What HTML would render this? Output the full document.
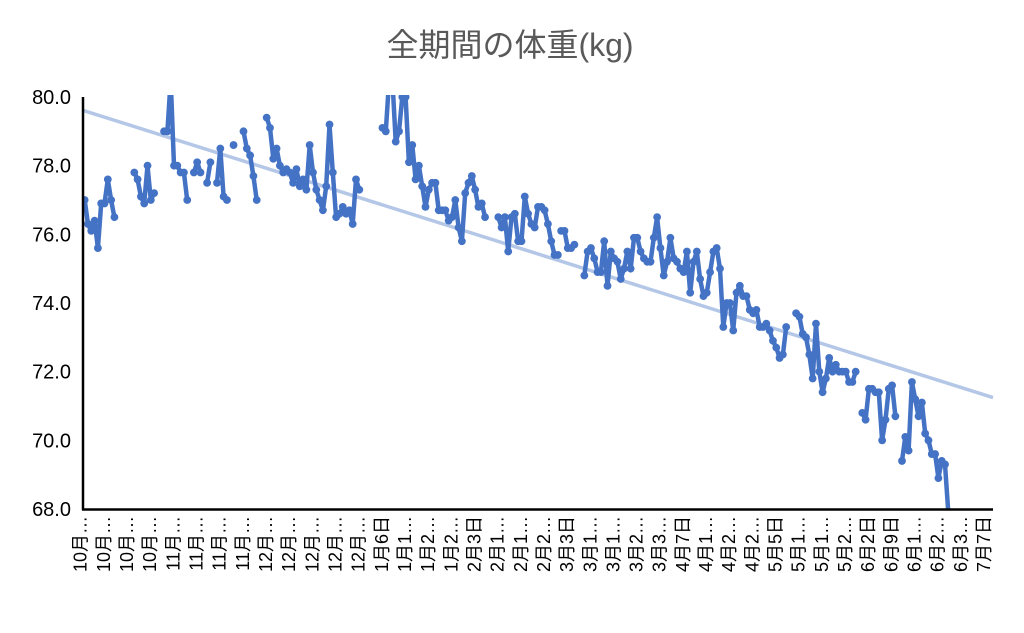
<!DOCTYPE html>
<html><head><meta charset="utf-8"><style>
body{margin:0;background:#fff;}
svg{display:block;font-family:"Liberation Sans","Noto Sans CJK JP",sans-serif;}
</style></head><body>
<svg id="chart" width="1024" height="633" viewBox="0 0 1024 633" xmlns="http://www.w3.org/2000/svg">
<defs><clipPath id="plotclip"><rect x="83" y="95" width="912" height="415"/></clipPath></defs>
<text x="510" y="56" text-anchor="middle" font-size="32" fill="#595959">全期間の体重(kg)</text>
<g id="yaxis"></g>
<g id="xaxis"></g>
<g id="series" clip-path="url(#plotclip)"></g>
<line x1="83" y1="97" x2="83" y2="510" stroke="#000" stroke-width="2.5"/>
<line x1="82" y1="509.5" x2="993" y2="509.5" stroke="#000" stroke-width="2.5"/>
</svg>
<script>
const yTicks = [68, 70, 72, 74, 76, 78, 80];
const xLabels = ["10月…","10月…","10月…","10月…","11月…","11月…","11月…","11月…","12月…","12月…","12月…","12月…","12月…","1月6日","1月1…","1月2…","1月2…","2月3日","2月1…","2月1…","2月2…","3月3日","3月1…","3月1…","3月2…","3月3…","4月7日","4月1…","4月2…","4月2…","5月5日","5月1…","5月1…","5月2…","6月2日","6月9日","6月1…","6月2…","6月3…","7月7日"];
const dayCount = 275;
const labelEvery = 7;
const segStarts = [0, 15, 24, 33, 37, 40, 45, 48, 55, 90, 125, 144, 151, 215, 235, 247];
const segWeights = [
[77.0,76.3,76.1,76.4,75.6,76.9,76.9,77.6,77.0,76.5],
[77.8,77.6,77.1,76.9,78.0,77.0,77.2],
[79.0,79.0,80.5,78.0,78.0,77.8,77.8,77.0],
[77.8,78.1,77.8],
[77.5,78.1],
[77.5,78.5,77.1,77.0],
[78.6],
[79.0,78.5,78.3,77.7,77.0],
[79.4,79.1,78.2,78.5,78.0,77.8,77.9,77.8,77.5,77.9,77.4,77.6,77.3,78.6,77.8,77.3,77.0,76.7,77.4,79.2,77.8,76.5,76.6,76.8,76.6,76.7,76.3,77.6,77.3],
[79.1,79.0,80.5,80.5,78.7,79.0,80.0,80.0,78.1,78.6,77.6,78.0,77.4,76.8,77.3,77.5,77.5,76.7,76.7,76.7,76.4,76.5,77.0,76.2,75.8,77.2,77.5,77.7,77.3,76.8,76.9,76.5],
[76.5,76.2,76.5,75.5,76.5,76.6,75.8,75.8,77.1,76.6,76.3,76.2,76.8,76.8,76.7,76.3,75.8,75.4,75.4],
[76.1,76.1,75.6,75.6,75.7],
[74.8,75.5,75.6,75.3,74.9,74.9,75.8,74.5,75.5,75.3,75.2,74.7,75.0,75.5,75.0,75.9,75.9,75.5,75.3,75.2,75.2,75.9,76.5,75.6,74.8,75.2,75.9,75.3,75.2,75.0,74.9,75.5,74.3,75.2,75.5,74.7,74.2,74.3,74.9,75.5,75.6,75.0,73.3,74.0,74.0,73.2,74.3,74.5,74.2,74.2,73.8,73.7,73.8,73.3,73.3,73.4,73.2,72.9,72.7,72.4,72.5,73.3],
[73.7,73.6,73.1,73.0,72.5,71.8,73.4,72.0,71.4,71.8,72.4,72.0,72.2,72.0,72.0,72.0,71.7,71.7,72.0],
[70.8,70.6,71.5,71.5,71.4,71.4,70.0,70.6,71.5,71.6,70.7],
[69.4,70.1,69.7,71.7,71.2,70.7,71.1,70.2,70.0,69.6,69.6,68.9,69.4,69.3,67.9]
];

const NS = "http://www.w3.org/2000/svg";
const X0 = 83, X1 = 993, Y0 = 509, Y1 = 97, YMIN = 68, YMAX = 80;
const step = (X1 - X0) / dayCount;
function xPos(i){ return X0 + (i + 0.5) * step; }
function yPos(v){ return Y0 - (v - YMIN) / (YMAX - YMIN) * (Y0 - Y1); }
function mk(tag, attrs, parent){ const e = document.createElementNS(NS, tag); for (const k in attrs) e.setAttribute(k, attrs[k]); parent.appendChild(e); return e; }

const yAxis = document.getElementById('yaxis');
yTicks.forEach(t => {
  const el = mk('text', {x: 71, y: yPos(t) + 7, 'text-anchor': 'end', 'font-size': 20, fill: '#000'}, yAxis);
  
  
  el.textContent = t.toFixed(1);
});

const xAxis = document.getElementById('xaxis');
xLabels.forEach((lab, k) => {
  const x = xPos(k * labelEvery) - 4;
  const el = mk('text', {x: 0, y: 0, 'text-anchor': 'end', 'font-size': 18, fill: '#000', transform: `translate(${x + 6},516) rotate(-90)`}, xAxis);
  
  
  el.textContent = lab;
});

const series = document.getElementById('series');
let n = 0, sx = 0, sy = 0, sxx = 0, sxy = 0;
segWeights.forEach((seg, s) => seg.forEach((v, j) => { const i = segStarts[s] + j; n++; sx += i; sy += v; sxx += i * i; sxy += i * v; }));
const slope = (n * sxy - sx * sy) / (n * sxx - sx * sx);
const icpt = (sy - slope * sx) / n;
const trend = mk('line', {x1: X0, y1: yPos(icpt + slope * -0.5), x2: X1, y2: yPos(icpt + slope * (dayCount - 0.5)), stroke: '#B4C7E7', 'stroke-width': 3.5}, series);



segWeights.forEach((seg, s) => {
  const pts = seg.map((v, j) => `${xPos(segStarts[s] + j).toFixed(1)},${yPos(v).toFixed(1)}`).join(' ');
  if (seg.length > 1) {
    const pl = mk('polyline', {points: pts, fill: 'none', stroke: '#4472C4', 'stroke-width': 4.5, 'stroke-linejoin': 'round'}, series);
    
    
  }
  seg.forEach((v, j) => {
    const c = mk('circle', {cx: xPos(segStarts[s] + j), cy: yPos(v), r: 3.9, fill: '#4472C4'}, series);
    
    
  });
});
</script>
</body></html>
